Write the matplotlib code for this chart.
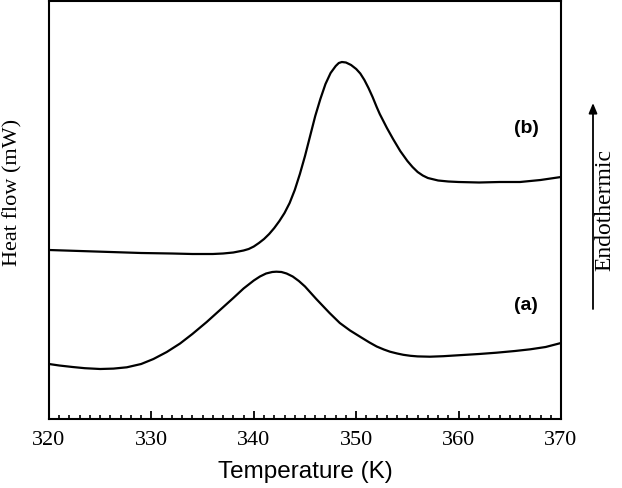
import matplotlib
matplotlib.use("Agg")
import matplotlib.pyplot as plt
from matplotlib.ticker import MultipleLocator

# Curve (b) - temperature (K) and heat flow (arbitrary units)
temp_b = [320, 323, 326, 329, 332, 334, 336, 337, 338, 339, 339.5, 340, 340.5, 341, 341.5, 342,
          342.5, 343, 343.5, 344, 344.5, 345, 345.5, 346, 346.5, 347, 347.5, 348, 348.3,
          348.6, 349, 349.5, 350, 350.4, 350.8, 351.2, 351.6, 352, 352.3, 352.7, 353,
          353.6, 354.3, 355, 355.5, 356, 356.5, 357, 358, 359, 360, 362, 364, 366, 368, 369,
          370]
heat_b = [169, 168, 167, 166, 165.5, 165, 165, 165.5, 166.5, 168.5, 170, 172.5, 176, 180, 185,
          191, 198, 206, 216, 229, 245, 263, 283, 303, 320, 335, 346, 353, 356,
          357, 356.5, 354, 350, 345.5, 339, 331, 322, 312, 305, 297, 291,
          280, 268, 258, 252, 247, 243.5, 241, 238.5, 237.5, 237, 236.5, 237, 237, 239, 240.5,
          242]

# Curve (a)
temp_a = [320, 321, 322.3, 323.5, 325, 326.3, 327.6, 329, 330.2, 331.5, 332.8, 334, 335.4,
          336.7, 338, 339, 340, 340.6, 341.2, 341.8, 342.2, 342.7, 343.2, 343.8, 344.4, 345,
          346.1, 347.4, 348.4, 349.4, 350.5, 351.3, 352, 352.7, 353.3, 354, 354.6, 355.3,
          356, 357.2, 358.5, 360.4, 362, 363.7, 365.5, 367, 368.5, 370]
heat_a = [55, 53.5, 52, 50.8, 50, 50.4, 51.7, 55, 60, 67, 75.5, 85, 97,
          109, 121, 130.5, 138.5, 142.5, 145.5, 147, 147.3, 147, 145.5, 142.5, 138, 132.5,
          120, 106, 96, 88.5, 81.5, 76.5, 72.5, 69.5, 67.3, 65.5, 64.2, 63.2,
          62.6, 62.3, 62.8, 64, 65, 66.3, 68, 69.7, 72, 76]

x_ticks = [320, 330, 340, 350, 360, 370]
labels = ["(a)", "(b)"]

serif = ["Liberation Serif", "DejaVu Serif"]
sans = ["Liberation Sans", "DejaVu Sans"]

fig = plt.figure(figsize=(6.22, 4.89), dpi=100)
ax = fig.add_axes([49 / 622, 1 - 420 / 489, (561 - 49) / 622, (420 - 2) / 489])

ax.plot(temp_b, heat_b, color="black", lw=1.6, solid_joinstyle="round")
ax.plot(temp_a, heat_a, color="black", lw=1.6, solid_joinstyle="round")

ax.set_xlim(320, 370)
ax.set_ylim(0, 418)
ax.set_xticks(x_ticks)
ax.xaxis.set_minor_locator(MultipleLocator(1))
ax.set_xticklabels([str(t) for t in x_ticks], fontfamily=serif, fontsize=16)
ax.tick_params(axis="x", which="major", direction="in", length=5.5, width=1.3, pad=8,
               top=False)
ax.tick_params(axis="x", which="minor", direction="in", length=3, width=1.2, top=False)
ax.set_yticks([])
for s in ax.spines.values():
    s.set_linewidth(1.5)

ax.set_xlabel("Temperature (K)", fontfamily=sans, fontsize=17.5, labelpad=8)

fig.text(13 / 622, 1 - 192 / 489, "Heat flow (mW)", rotation=90, ha="center", va="center",
         fontfamily=serif, fontsize=16)

# curve labels
ax.text(366.6, 419 - 304, labels[0], ha="center", va="center", fontfamily=sans,
        fontweight="bold", fontsize=14)
ax.text(366.6, 419 - 128, labels[1], ha="center", va="center", fontfamily=sans,
        fontweight="bold", fontsize=14)

# Endothermic arrow
fig.patches.append(matplotlib.patches.FancyArrowPatch(
    (593 / 622, 1 - 310 / 489), (593 / 622, 1 - 104 / 489), transform=fig.transFigure,
    arrowstyle="-|>,head_length=6,head_width=2.5", color="black", lw=1.3,
    shrinkA=0, shrinkB=0))
fig.text(605 / 622, 1 - 210 / 489, "Endothermic", rotation=90, ha="center", va="center",
         fontfamily=serif, fontsize=17)

fig.savefig("out.png", dpi=100)
